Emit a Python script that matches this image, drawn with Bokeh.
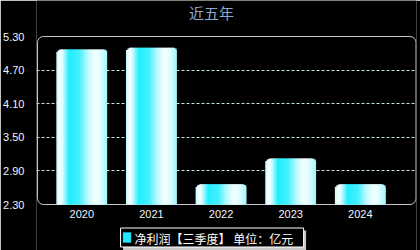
import numpy as np
from bokeh.plotting import figure
from bokeh.models import Range1d, FixedTicker, NumeralTickFormatter, ColumnDataSource
from bokeh.core.properties import value
from bokeh.embed import file_html
from bokeh.resources import INLINE

# ---- data ----
years = ["2020", "2021", "2022", "2023", "2024"]
values = [5.07, 5.10, 2.66, 3.12, 2.66]
y_ticks = [2.30, 2.90, 3.50, 4.10, 4.70, 5.30]
series_name = "净利润【三季度】 单位：亿元"
title_text = "近五年"

# ---- layout (pixels) ----
W, H = 420, 250
FL, FR, FT, FB = 34, 416, 0, 250           # frame edges on canvas
PX_X0, PX_DX = 79.5, 70.0                  # first category centre, spacing
PX_YBASE, PX_PER_Y = 204.0, 56.0           # pixel row of y_ticks[0], px per unit
YMIN = y_ticks[0]


def X(px):
    return (px - PX_X0) / PX_DX


def Y(py):
    return YMIN + (PX_YBASE - py) / PX_PER_Y


BAR_W = 0.73
RADIUS_PX = 5.0
N_STRIPS = 34

# gradient stops across bar width
stops = [(0.00, "#b8faff"), (0.06, "#ffffff"), (0.12, "#dcfeff"),
         (0.25, "#22eeff"), (0.45, "#44f0ff"), (0.62, "#bff9ff"),
         (0.76, "#f4ffff"), (0.88, "#d8fdff"), (1.00, "#a0f5ff")]


def hex2rgb(h):
    h = h.lstrip("#")
    return np.array([int(h[i:i + 2], 16) for i in (0, 2, 4)], dtype=float)


def grad(t):
    for (t0, c0), (t1, c1) in zip(stops[:-1], stops[1:]):
        if t0 <= t <= t1:
            f = (t - t0) / (t1 - t0) if t1 > t0 else 0
            c = hex2rgb(c0) * (1 - f) + hex2rgb(c1) * f
            return "#%02x%02x%02x" % tuple(int(round(v)) for v in c)
    return stops[-1][1]


left, right, top, bottom, colors = [], [], [], [], []
bar_px = BAR_W * PX_DX
for i, v in enumerate(values):
    xl = i - BAR_W / 2
    for k in range(N_STRIPS):
        t0 = k / N_STRIPS
        t1 = (k + 1) / N_STRIPS
        tc = (t0 + t1) / 2
        u = tc * bar_px
        d = min(u, bar_px - u)
        drop = 0.0
        if d < RADIUS_PX:
            drop = RADIUS_PX - np.sqrt(max(RADIUS_PX ** 2 - (RADIUS_PX - d) ** 2, 0))
        # overlap each strip into the next one to hide anti-aliasing seams
        t1o = min(t1 + 0.8 / N_STRIPS, 1.0) if k < N_STRIPS - 1 else 1.0
        left.append(xl + t0 * BAR_W)
        right.append(xl + t1o * BAR_W)
        top.append(v - drop / PX_PER_Y)
        bottom.append(YMIN)
        colors.append(grad(tc))

src = ColumnDataSource(dict(left=left, right=right, top=top, bottom=bottom, color=colors))

p = figure(width=W, height=H, output_backend="svg", toolbar_location=None,
           x_range=Range1d(X(FL), X(FR)), y_range=Range1d(Y(FB), Y(FT)),
           min_border_left=FL, min_border_right=W - FR, min_border_top=FT,
           min_border_bottom=H - FB, background_fill_color="black",
           border_fill_color="black")

p.outline_line_color = None
p.xaxis.visible = False

# title
p.text(x=[X(210)], y=[Y(12)], text=[title_text], text_align="center",
       text_baseline="middle", text_color="#8ea9cf",
       text_font=value("Noto Sans CJK SC"), text_font_size="15px")

# dashed grid (inner ticks only)
p.xgrid.grid_line_color = None
p.ygrid.ticker = FixedTicker(ticks=y_ticks[1:-1])
p.ygrid.grid_line_color = "#c8e4ec"
p.ygrid.grid_line_dash = "3 2"
p.ygrid.grid_line_width = 1

# plot-area border with rounded corners
p.quad(left=[X(35)], right=[X(415.5)], top=[y_ticks[-1]], bottom=[y_ticks[0]],
       fill_color=None, line_color="#c8c8c8", line_width=1, border_radius=6)

# bars
p.quad(left="left", right="right", top="top", bottom="bottom", source=src,
       fill_color="color", line_color=None)

# y axis
p.yaxis.ticker = FixedTicker(ticks=y_ticks)
p.yaxis.formatter = NumeralTickFormatter(format="0.00")
p.yaxis.axis_line_color = None
p.yaxis.major_tick_line_color = None
p.yaxis.minor_tick_line_color = None
p.yaxis.major_label_text_color = "#f0f4ff"
p.yaxis.major_label_text_font = "Liberation Sans"
p.yaxis.major_label_text_font_size = "11px"
p.yaxis.major_label_standoff = 6

# category labels
p.text(x=list(range(len(years))), y=[Y(213.5)] * len(years), text=years,
       text_align="center", text_baseline="middle", text_color="#f0f4ff",
       text_font=value("Liberation Sans"), text_font_size="11px")

# legend: shadow, box, swatch, label
p.quad(left=[X(121)], right=[X(305)], top=[Y(230)], bottom=[Y(249.5)],
       fill_color="#c8c8c8", line_color=None)
p.quad(left=[X(118.5)], right=[X(302.5)], top=[Y(227.5)], bottom=[Y(246.5)],
       fill_color="black", line_color="white", line_width=1)
p.quad(left=[X(121)], right=[X(129)], top=[Y(232)], bottom=[Y(242)],
       fill_color="#22e6ff", line_color="#1fb8cc", line_width=0.5)
p.text(x=[X(132.5)], y=[Y(237.5)], text=[series_name], text_baseline="middle",
       text_align="left", text_color="white",
       text_font=value("Noto Sans CJK SC"), text_font_size="12px")

open("out.html", "w").write(file_html(p, INLINE))
